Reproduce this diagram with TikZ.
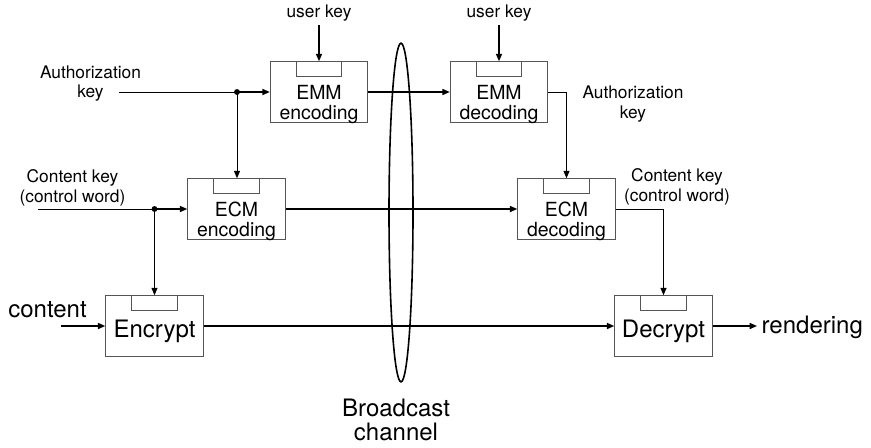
\documentclass[tikz,border=0pt]{standalone}
\usepackage{fontspec}
\setmainfont{TeX Gyre Heros}
\usepackage{tikz}
\usetikzlibrary{arrows.meta,shapes.geometric}
\definecolor{boxgray}{RGB}{85,85,85}

\begin{document}
\begin{tikzpicture}[x=0.75pt,y=-0.75pt,
    >={Triangle[length=5.5pt,width=4.5pt]},
    wire/.style={line width=0.75pt},
    link/.style={line width=1.1pt},
    block/.style={draw=boxgray,line width=0.75pt,minimum width=73.1pt,minimum height=45.4pt,inner sep=0pt},
    smalltext/.style={font=\fontsize{13}{14.5}\selectfont,align=center},
    blocktext/.style={font=\fontsize{14.6}{15}\selectfont,align=center},
    bigtext/.style={font=\fontsize{18}{18}\selectfont,align=center}]
        \useasboundingbox (0,0) rectangle (871,447);
        \node[draw,ellipse,line width=1.2pt,minimum width=18pt,minimum height=254pt,inner sep=0pt] (channel) at (401,212.5) {};
        \node[bigtext] (channellabel) at (396,420) {Broadcast\\channel};
        \node[block,label={[blocktext,yshift=-9.3pt]center:EMM\\encoding}] (emmenc) at (319,92) {};
        \node[block,label={[blocktext,yshift=-9.3pt]center:EMM\\decoding}] (emmdec) at (499,92) {};
        \node[block,label={[blocktext,yshift=-9.3pt]center:ECM\\encoding}] (ecmenc) at (236.5,209) {};
        \node[block,label={[blocktext,yshift=-9.3pt]center:ECM\\decoding}] (ecmdec) at (566.5,209) {};
        \node[block,label={[bigtext,yshift=-3.7pt]center:Encrypt}] (encrypt) at (154.5,326) {};
        \node[block,label={[bigtext,yshift=-3.7pt]center:Decrypt}] (decrypt) at (663.5,326) {};
        \foreach \b in {emmenc,emmdec,ecmenc,ecmdec,encrypt,decrypt}
          \draw[boxgray,line width=0.75pt] ([xshift=-16.9pt]\b.north) rectangle ([xshift=16.9pt,yshift=-11.25pt]\b.north);
        \node[smalltext,anchor=base] (userkeyenc) at (319,17) {user key};
        \node[smalltext,anchor=base] (userkeydec) at (499,17) {user key};
        \node[smalltext] (authkeyin) at (90.5,83.5) {Authorization\\key};
        \node[smalltext] (authkeyout) at (633,104) {Authorization\\key};
        \node[smalltext] (ckeyin) at (72.5,188) {Content key\\(control word)};
        \node[smalltext] (ckeyout) at (677,187) {Content key\\(control word)};
        \node[bigtext,anchor=base] (contentlabel) at (47.5,317) {content};
        \node[bigtext,anchor=base west] (rendering) at (757,333) {rendering};
        \coordinate (authin) at (119,92);
        \coordinate (authdot) at (237,92);
        \coordinate (keyin) at (38,209);
        \coordinate (keydot) at (154.5,209);
        \coordinate (contentin) at (61,326);
        \draw[link,->] (userkeyenc) -- (emmenc.north);
        \draw[link,->] (userkeydec) -- (emmdec.north);
        \draw[wire] (authin) -- (authdot);
        \draw[link,->] (authdot) -- (emmenc.west);
        \draw[wire,->] (authdot) -- (authdot |- ecmenc.north);
        \draw[wire] (keyin) -- (keydot);
        \draw[link,->] (keydot) -- (ecmenc.west);
        \draw[wire,->] (keydot) -- (encrypt.north);
        \fill (authdot) circle (2.2pt);
        \fill (keydot) circle (2.2pt);
        \draw[link,->] (contentin) -- (encrypt.west);
        \draw[link,->] (emmenc.east) -- (emmdec.west);
        \draw[link,->] (ecmenc.east) -- (ecmdec.west);
        \draw[link,->] (encrypt.east) -- (decrypt.west);
        \draw[wire,->] (emmdec.east) -| (ecmdec.north);
        \draw[wire,->] (ecmdec.east) -| (decrypt.north);
        \draw[link,->] (decrypt.east) -- (decrypt.east -| rendering.west);
      \end{tikzpicture}
\end{document}
